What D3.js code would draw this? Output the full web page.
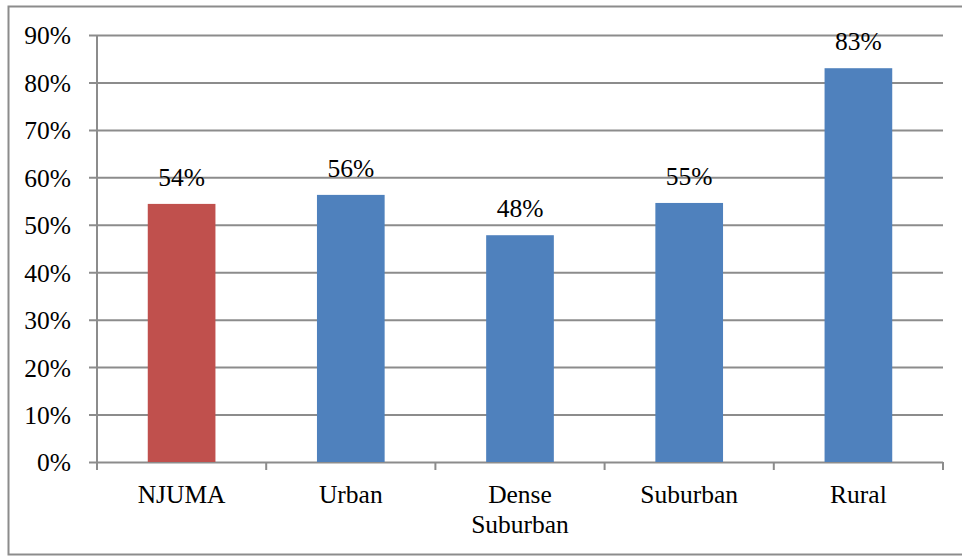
<!DOCTYPE html>
<html>
<head>
<meta charset="utf-8">
<script src="https://cdn.jsdelivr.net/npm/d3@7"></script>
<style>
  body { margin: 0; background: #fff; }
</style>
</head>
<body>
<div id="chart"></div>
<script>
// chart values
const categories = ['NJUMA', 'Urban', 'Dense Suburban', 'Suburban', 'Rural']
const values = [0.544, 0.563, 0.478, 0.546, 0.83]
const valueLabels = ['54%', '56%', '48%', '55%', '83%']
const barColors = ['#C0504D', '#4F81BD', '#4F81BD', '#4F81BD', '#4F81BD']
const yTicks = [0, 0.1, 0.2, 0.3, 0.4, 0.5, 0.6, 0.7, 0.8, 0.9]

const size = { width: 962, height: 556 }
const margin = { top: 35, right: 19, bottom: 94, left: 97 }
const chartWidth = size.width - margin.left - margin.right
const chartHeight = size.height - margin.top - margin.bottom
const gridColor = '#8c8c8c'
const fontSize = '25.5px'
const fontFamily = "'Liberation Serif', 'Times New Roman', serif"

const svg = d3.select('#chart').append('svg')
  .attr('width', size.width)
  .attr('height', size.height)

// outer frame (right side falls off the picture)
svg.append('rect')
  .attr('x', 8.5).attr('y', 6.5)
  .attr('width', 960).attr('height', 548)
  .attr('fill', 'none')
  .attr('stroke', gridColor)
  .attr('stroke-width', 2)

const chartArea = svg.append('g')
  .attr('transform', 'translate(' + margin.left + ',' + margin.top + ')')

const x = d3.scaleBand()
  .domain(categories)
  .range([0, chartWidth])
  .paddingInner(0.6)
  .paddingOuter(0.3)

const y = d3.scaleLinear()
  .domain([0, 0.9])
  .range([chartHeight, 0])

// y axis with gridlines
const yAxis = chartArea.append('g')
  .attr('transform', 'translate(-8,0)')
  .call(d3.axisLeft(y)
    .tickValues(yTicks)
    .tickSize(-chartWidth - 8)
    .tickFormat(d3.format('.0%')))
yAxis.select('.domain').remove()
yAxis.selectAll('.tick line')
  .attr('stroke', gridColor)
  .attr('stroke-width', 2)
  .attr('x1', 0)
  .attr('x2', chartWidth + 8)
yAxis.selectAll('.tick text')
  .attr('x', -18)
  .attr('dy', '0.35em')
  .attr('fill', '#000')
  .style('font-size', fontSize)
  .style('font-family', fontFamily)

// vertical axis line
chartArea.append('line')
  .attr('x1', 0).attr('x2', 0)
  .attr('y1', 0).attr('y2', chartHeight + 8)
  .attr('stroke', gridColor)
  .attr('stroke-width', 2)

// category boundary ticks
const boundaries = d3.range(1, categories.length + 1).map(i => i * chartWidth / categories.length)
chartArea.selectAll('line.cat-tick')
  .data(boundaries)
  .enter().append('line')
  .attr('class', 'cat-tick')
  .attr('x1', d => d).attr('x2', d => d)
  .attr('y1', chartHeight).attr('y2', chartHeight + 8)
  .attr('stroke', gridColor)
  .attr('stroke-width', 2)

// bars
chartArea.selectAll('rect.bar')
  .data(values)
  .enter().append('rect')
  .attr('class', 'bar')
  .attr('x', (d, i) => x(categories[i]))
  .attr('y', d => y(d))
  .attr('width', x.bandwidth())
  .attr('height', d => chartHeight - y(d))
  .attr('fill', (d, i) => barColors[i])

// value labels
chartArea.selectAll('text.val')
  .data(values)
  .enter().append('text')
  .attr('class', 'val')
  .attr('x', (d, i) => x(categories[i]) + x.bandwidth() / 2)
  .attr('y', d => y(d) - 18)
  .attr('text-anchor', 'middle')
  .style('font-size', fontSize)
  .style('font-family', fontFamily)
  .text((d, i) => valueLabels[i])

// category labels, wrapped on space for the long one
chartArea.selectAll('text.cat')
  .data(categories)
  .enter().append('text')
  .attr('class', 'cat')
  .attr('text-anchor', 'middle')
  .style('font-size', fontSize)
  .style('font-family', fontFamily)
  .attr('transform', d => 'translate(' + (x(d) + x.bandwidth() / 2) + ',' + (chartHeight + 41) + ')')
  .each(function(d){
    const words = d.length > 10 ? d.split(' ') : [d]
    d3.select(this).selectAll('tspan')
      .data(words)
      .enter().append('tspan')
      .attr('x', 0)
      .attr('dy', (w, i) => i === 0 ? 0 : 30)
      .text(w => w)
  })
</script>
</body>
</html>
